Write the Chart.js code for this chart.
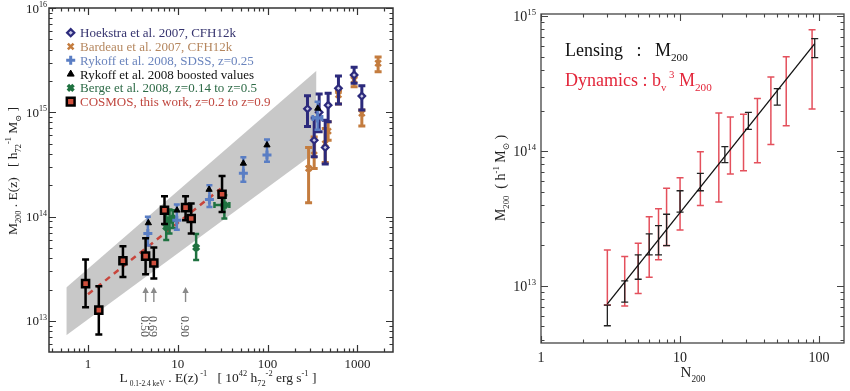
<!DOCTYPE html>
<html>
<head>
<meta charset="utf-8">
<script src="https://cdn.jsdelivr.net/npm/chart.js@4.4.0/dist/chart.umd.min.js"></script>
<style>
  html, body { margin: 0; padding: 0; background: #fff; }
  #wrap { position: relative; width: 850px; height: 391px; }
  #left { position: absolute; left: 0; top: 0; }
  #right { position: absolute; left: 430px; top: 0; }
</style>
</head>
<body>
<div id="wrap">
  <canvas id="left" width="430" height="391"></canvas>
  <canvas id="right" width="420" height="391"></canvas>
</div>
<script>
// ---------- left panel data (L in 1e42 h72^-2 erg/s, M200 in h72^-1 Msun) ----------
const cosmosL  = [0.94, 1.32, 2.45, 4.38, 5.41, 7.11, 12.2, 14.1, 31.1];
const cosmosM  = [2.28e13, 1.27e13, 3.77e13, 4.18e13, 3.6e13, 1.15e14, 1.22e14, 9.6e13, 1.64e14];
const cosmosHi = [3.88e13, 2.15e13, 5.2e13, 6.2e13, 5.06e13, 1.57e14, 1.57e14, 1.34e14, 2.45e14];
const cosmosLo = [1.35e13, 7.4e12, 2.64e13, 2.8e13, 2.55e13, 8.5e13, 9.25e13, 6.9e13, 1.11e14];

const rykoffL   = [4.64, 9.75, 22.5, 53.7, 98.4, 360];
const rykoffM   = [6.9e13, 9.25e13, 1.46e14, 2.6e14, 3.9e14, 8.8e14];
const rykoffHi  = [9.95e13, 1.31e14, 2.0e14, 3.7e14, 5.5e14, 1.26e15];
const rykoffLo  = [5.3e13, 7.5e13, 1.24e14, 2.16e14, 3.36e14, 6.8e14];
const rykoffXLo = [null, null, null, null, null, 318];
const rykoffXHi = [null, null, null, null, null, 405];

const boostedL = [4.7, 9.8, 22.3, 53.7, 98.4, 362];
const boostedM = [8.7e13, 1.15e14, 1.82e14, 3.24e14, 4.85e14, 1.09e15];

const bergeL   = [7.43, 8.09, 8.8, 16.0, 33.0];
const bergeM   = [7.98e13, 9.25e13, 9.6e13, 5.06e13, 1.29e14];
const bergeHi  = [1.09e14, 1.17e14, 1.15e14, 6.8e13, 1.6e14];
const bergeLo  = [5.96e13, 6.9e13, 7.8e13, 3.83e13, 9.6e13];
const bergeXLo = [null, null, null, null, 25.6];
const bergeXHi = [null, null, null, null, 37.5];

const hoekL  = [278, 330, 375, 438, 472, 615, 919, 1120];
const hoekM  = [1.08e15, 5.4e14, 1.0e15, 4.6e14, 1.17e15, 1.7e15, 2.28e15, 1.43e15];
const hoekHi = [1.44e15, 8.8e14, 1.5e15, 8.4e14, 1.52e15, 2.23e15, 2.7e15, 1.8e15];
const hoekLo = [7.3e14, 3.75e14, 6.5e14, 3.2e14, 8.1e14, 1.2e15, 1.9e15, 1.05e15];

const bardL  = [286, 330, 438, 472, 615, 919, 1120, 1700];
const bardM  = [2.9e14, 3.9e14, 5.0e14, 6.6e14, 1.47e15, 2.04e15, 9.8e14, 2.95e15];
const bardHi = [4.6e14, 5.8e14, 7.0e14, 8.1e14, 1.6e15, 2.2e15, 1.05e15, 3.4e15];
const bardLo = [1.36e14, 2.9e14, 3.3e14, 5.4e14, 1.2e15, 1.76e15, 7.4e14, 2.45e15];

const cosmosFitL = [1.0, 30];
const cosmosFitM = [1.8e13, 1.85e14];

const bandL     = [0.574, 350];
const bandUpper = [2.09e13, 2.51e15];
const bandLower = [7.3e12, 4.2e14];

const arrowL      = [4.38, 5.41, 12.2];
const arrowLabels = ['0.50', '0.69', '0.90'];
const arrowBase   = 1.52e13;
const arrowTip    = 2.12e13;
const arrowTextM  = 8.85e12;

const legendLabels = [
  'Hoekstra et al. 2007, CFH12k',
  'Bardeau et al. 2007, CFH12k',
  'Rykoff et al. 2008, SDSS, z=0.25',
  'Rykoff et al. 2008 boosted values',
  'Berge et al. 2008, z=0.14 to z=0.5',
  'COSMOS, this work, z=0.2 to z=0.9'
];

const leftXTicks = [1, 10, 100, 1000];
const leftYExps  = [13, 14, 15, 16];

// ---------- right panel data ----------
const lensN  = [3, 4, 5, 6, 7, 8, 10, 14, 21, 31, 50, 93];
const lensHi = [7.2e12, 1.09e13, 1.7e13, 2.43e13, 2.8e13, 3.4e13, 5.08e13, 6.84e13, 1.08e14, 1.94e14, 2.91e14, 6.84e14];
const lensLo = [5.06e12, 7.57e12, 1.12e13, 1.7e13, 1.7e13, 1.99e13, 3.53e13, 5.08e13, 8.2e13, 1.45e14, 2.19e14, 4.94e14];

const dynN  = [3, 4, 5, 6, 7, 8, 10, 14, 19, 23, 28.6, 36, 45, 58, 89];
const dynHi = [1.85e13, 1.65e13, 2.07e13, 3.26e13, 3.74e13, 5.3e13, 6.35e13, 9.9e13, 1.92e14, 1.79e14, 1.88e14, 2.46e14, 3.55e14, 5.0e14, 7.96e14];
const dynLo = [7.2e12, 7.1e12, 8.8e12, 1.16e13, 1.56e13, 1.99e13, 2.6e13, 3.94e13, 4.2e13, 6.76e13, 7.15e13, 8.2e13, 1.12e14, 1.54e14, 2.05e14];

const fitN = [3, 93];
const fitM = [7.36e12, 6.28e14];

const rightXTicks = [1, 10, 100];
const rightYExps  = [13, 14, 15];

// ---------- colours ----------
const NAVY = '#2c2a7c', ORANGE = '#c47c3e', BLUE = '#5a7ec4', GREEN = '#1f7240';
const SQFILL = '#cf4f3c', DYNRED = '#e4505c', TXTRED = '#e3263a';

const SERIF = "'Liberation Serif','Times New Roman','DejaVu Serif',serif";
const fnt = s => `${s}px ${SERIF}`;
const N = t => ({ t });
const SUB = t => ({ t, s: 0.62, dy: 0.3 });
const SUP = t => ({ t, s: 0.62, dy: -0.42 });

// draws text made of pieces with sub/superscripts
function rich(ctx, parts, x, y, size, color, align, rot) {
  ctx.save();
  ctx.translate(x, y);
  if (rot) ctx.rotate(rot);
  ctx.textBaseline = 'alphabetic';
  ctx.textAlign = 'left';
  let w = 0;
  const ws = parts.map(p => {
    ctx.font = fnt(size * (p.s || 1));
    const m = ctx.measureText(p.t).width;
    w += m;
    return m;
  });
  let cx = align === 'center' ? -w / 2 : align === 'right' ? -w : 0;
  parts.forEach((p, i) => {
    ctx.font = fnt(size * (p.s || 1));
    ctx.fillStyle = p.c || color;
    ctx.fillText(p.t, cx, (p.dy || 0) * size);
    cx += ws[i];
  });
  ctx.restore();
}

function logTicks(min, max) {
  const out = [];
  for (let e = Math.floor(Math.log10(min)); e <= Math.ceil(Math.log10(max)); e++) {
    for (let m = 1; m < 10; m++) {
      const v = m * Math.pow(10, e);
      if (v >= min * 0.999 && v <= max * 1.001) out.push({ v, major: m === 1 });
    }
  }
  return out;
}

// frame with inward ticks on all four sides
function drawFrame(chart, o) {
  const { ctx, chartArea: ca, scales } = chart;
  ctx.save();
  ctx.strokeStyle = o.color;
  ctx.lineWidth = o.tickWidth;
  ctx.beginPath();
  logTicks(scales.x.min, scales.x.max).forEach(t => {
    const px = Math.round(scales.x.getPixelForValue(t.v)) + 0.5;
    const len = t.major ? o.major : o.minor;
    ctx.moveTo(px, ca.bottom); ctx.lineTo(px, ca.bottom - len);
    ctx.moveTo(px, ca.top); ctx.lineTo(px, ca.top + len);
  });
  logTicks(scales.y.min, scales.y.max).forEach(t => {
    const py = Math.round(scales.y.getPixelForValue(t.v)) + 0.5;
    const len = t.major ? o.major : o.minor;
    ctx.moveTo(ca.left, py); ctx.lineTo(ca.left + len, py);
    ctx.moveTo(ca.right, py); ctx.lineTo(ca.right - len, py);
  });
  ctx.stroke();
  ctx.lineWidth = o.width;
  ctx.strokeRect(ca.left, ca.top, ca.width, ca.height);
  ctx.restore();
}

// error bars stored on the dataset, drawn under that dataset's markers
const errorBars = {
  id: 'errorBars',
  beforeDatasetDraw(chart, args) {
    const ds = chart.data.datasets[args.index];
    const e = ds.err;
    if (!e) return;
    const { ctx, chartArea: ca, scales } = chart;
    ctx.save();
    ctx.beginPath();
    ctx.rect(ca.left, ca.top, ca.width, ca.height);
    ctx.clip();
    ctx.strokeStyle = e.color;
    ctx.lineWidth = e.width;
    ctx.beginPath();
    ds.data.forEach((p, i) => {
      const px = scales.x.getPixelForValue(p.x);
      const py = scales.y.getPixelForValue(p.y);
      if (e.lo && e.lo[i] != null) {
        const y1 = scales.y.getPixelForValue(e.lo[i]);
        const y2 = scales.y.getPixelForValue(e.hi[i]);
        ctx.moveTo(px, y1); ctx.lineTo(px, y2);
        ctx.moveTo(px - e.cap, y1); ctx.lineTo(px + e.cap, y1);
        ctx.moveTo(px - e.cap, y2); ctx.lineTo(px + e.cap, y2);
      }
      if (e.xlo && e.xlo[i] != null) {
        const x1 = scales.x.getPixelForValue(e.xlo[i]);
        const x2 = scales.x.getPixelForValue(e.xhi[i]);
        ctx.moveTo(x1, py); ctx.lineTo(x2, py);
        ctx.moveTo(x1, py - e.cap); ctx.lineTo(x1, py + e.cap);
        ctx.moveTo(x2, py - e.cap); ctx.lineTo(x2, py + e.cap);
      }
    });
    ctx.stroke();
    ctx.restore();
  }
};

const pts = (xs, ys) => xs.map((x, i) => ({ x, y: ys[i] }));

// ---------- left chart ----------
const legendStyles = [
  { style: 'rectRot', r: 3.6, bw: 2.2, stroke: NAVY, fill: '#c9c9e6', text: '#35336e' },
  { style: 'crossRot', r: 4, bw: 2.5, stroke: ORANGE, fill: ORANGE, text: '#b5875f' },
  { style: 'cross', r: 4.5, bw: 3, stroke: BLUE, fill: BLUE, text: '#6a84bd' },
  { style: 'triangle', r: 4, bw: 1, stroke: '#000', fill: '#000', text: '#111' },
  { style: 'crossRot', r: 4, bw: 3.5, stroke: GREEN, fill: GREEN, text: '#2d6a46' },
  { style: 'rect', r: 5.5, bw: 2.5, stroke: '#000', fill: SQFILL, text: '#c0473f' }
];

const leftDecor = {
  id: 'leftDecor',
  afterDraw(chart) {
    const { ctx, chartArea: ca, scales } = chart;
    drawFrame(chart, { color: '#333', width: 1.5, tickWidth: 1.2, major: 7, minor: 3.5 });

    // tick labels
    leftXTicks.forEach(v => {
      rich(ctx, [N(String(v))], scales.x.getPixelForValue(v), 368, 13, '#222', 'center');
    });
    leftYExps.forEach(e => {
      rich(ctx, [N('10'), SUP(String(e))], ca.left - 2, scales.y.getPixelForValue(Math.pow(10, e)) + 4.5, 13, '#222', 'right');
    });

    // axis titles
    rich(ctx, [N('L'), { t: ' 0.1-2.4 keV', s: 0.55, dy: 0.3 }, N(' . E(z)'), SUP(' -1'),
      N('   [ 10'), SUP('42'), N(' h'), SUB('72'), SUP('-2'), N(' erg s'), SUP('-1'), N(' ]')],
      218, 382, 13.5, '#222', 'center');
    rich(ctx, [N('M'), SUB('200'), N(' . E(z)   [ h'), SUB('72'), SUP('-1'), N(' M'), SUB('\u2299'), N(' ]')],
      17, 171, 13.5, '#222', 'center', -Math.PI / 2);

    // arrows with redshift labels
    ctx.save();
    ctx.strokeStyle = '#8a8a8a';
    ctx.fillStyle = '#8a8a8a';
    ctx.lineWidth = 1.4;
    arrowL.forEach((v, i) => {
      const px = scales.x.getPixelForValue(v);
      const yb = scales.y.getPixelForValue(arrowBase);
      const yt = scales.y.getPixelForValue(arrowTip);
      ctx.beginPath();
      ctx.moveTo(px, yb); ctx.lineTo(px, yt + 5);
      ctx.stroke();
      ctx.beginPath();
      ctx.moveTo(px, yt); ctx.lineTo(px - 3.2, yt + 6); ctx.lineTo(px + 3.2, yt + 6);
      ctx.closePath();
      ctx.fill();
      rich(ctx, [N(arrowLabels[i])], px - 5, scales.y.getPixelForValue(arrowTextM), 12, '#555', 'center', Math.PI / 2);
    });
    ctx.restore();

    // legend
    legendLabels.forEach((lab, i) => {
      const st = legendStyles[i];
      const y = 32.7 + i * 13.8;
      ctx.save();
      ctx.strokeStyle = st.stroke;
      ctx.fillStyle = st.fill;
      ctx.lineWidth = st.bw;
      Chart.helpers.drawPoint(ctx, { pointStyle: st.style, radius: st.r, borderWidth: st.bw, rotation: 0 }, 70.7, y);
      ctx.restore();
      rich(ctx, [N(lab)], 80, y + 4.5, 13, st.text, 'left');
    });
  }
};

new Chart(document.getElementById('left'), {
  type: 'scatter',
  data: {
    datasets: [
      {
        label: 'COSMOS', data: pts(cosmosL, cosmosM), order: 1,
        pointStyle: 'rect', pointRadius: 5, backgroundColor: SQFILL, borderColor: '#000', borderWidth: 2.5,
        err: { lo: cosmosLo, hi: cosmosHi, color: '#000', width: 2.5, cap: 3.5 }
      },
      {
        label: 'Rykoff boosted', data: pts(boostedL, boostedM), order: 2,
        pointStyle: 'triangle', pointRadius: 3.6, backgroundColor: '#000', borderColor: '#000', borderWidth: 1
      },
      {
        label: 'Rykoff SDSS', data: pts(rykoffL, rykoffM), order: 3,
        pointStyle: 'cross', pointRadius: 4.5, borderColor: BLUE, borderWidth: 3,
        err: { lo: rykoffLo, hi: rykoffHi, xlo: rykoffXLo, xhi: rykoffXHi, color: BLUE, width: 2.5, cap: 3 }
      },
      {
        label: 'Berge', data: pts(bergeL, bergeM), order: 4,
        pointStyle: 'crossRot', pointRadius: 4, borderColor: GREEN, borderWidth: 3.5,
        err: { lo: bergeLo, hi: bergeHi, xlo: bergeXLo, xhi: bergeXHi, color: GREEN, width: 2.5, cap: 3 }
      },
      {
        label: 'Hoekstra', data: pts(hoekL, hoekM), order: 5,
        pointStyle: 'rectRot', pointRadius: 3.3, backgroundColor: '#c9c9e6', borderColor: NAVY, borderWidth: 2.2,
        err: { lo: hoekLo, hi: hoekHi, color: NAVY, width: 3, cap: 3.5 }
      },
      {
        label: 'Bardeau', data: pts(bardL, bardM), order: 6,
        pointStyle: 'crossRot', pointRadius: 4, borderColor: ORANGE, borderWidth: 2.5,
        err: { lo: bardLo, hi: bardHi, color: ORANGE, width: 3, cap: 3.5 }
      },
      {
        type: 'line', label: 'fit', data: pts(cosmosFitL, cosmosFitM), order: 8,
        borderColor: '#c8453c', borderWidth: 2.5, borderDash: [6, 5], pointRadius: 0, fill: false
      },
      {
        type: 'line', label: 'band upper', data: pts(bandL, bandUpper), order: 10,
        borderColor: 'rgba(0,0,0,0)', borderWidth: 0, pointRadius: 0, fill: false
      },
      {
        type: 'line', label: 'band lower', data: pts(bandL, bandLower), order: 10,
        borderColor: 'rgba(0,0,0,0)', borderWidth: 0, pointRadius: 0,
        fill: '-1', backgroundColor: 'rgb(200,200,200)'
      }
    ]
  },
  options: {
    responsive: false,
    animation: false,
    events: [],
    layout: { padding: { left: 0, top: 8, right: 37, bottom: 0 } },
    plugins: { legend: { display: false }, tooltip: { enabled: false } },
    scales: {
      x: {
        type: 'logarithmic', min: 0.368, max: 2490,
        grid: { display: false }, border: { display: false }, ticks: { display: false },
        afterFit: s => { s.height = 39; }
      },
      y: {
        type: 'logarithmic', min: 5.04e12, max: 1e16,
        grid: { display: false }, border: { display: false }, ticks: { display: false },
        afterFit: s => { s.width = 49; }
      }
    }
  },
  plugins: [errorBars, leftDecor]
});

// ---------- right chart ----------
const rightDecor = {
  id: 'rightDecor',
  afterDraw(chart) {
    const { ctx, chartArea: ca, scales } = chart;
    drawFrame(chart, { color: '#444', width: 1.3, tickWidth: 1.1, major: 7, minor: 3.5 });

    rightXTicks.forEach(v => {
      rich(ctx, [N(String(v))], scales.x.getPixelForValue(v), 362, 14, '#222', 'center');
    });
    rightYExps.forEach(e => {
      rich(ctx, [N('10'), SUP(String(e))], ca.left - 5, scales.y.getPixelForValue(Math.pow(10, e)) + 5, 14, '#222', 'right');
    });

    rich(ctx, [N('N'), SUB('200')], 263, 377, 15, '#222', 'center');
    rich(ctx, [N('M'), SUB('200'), N('  ( h'), SUP('-1'), N(' M'), SUB('\u2299'), N(' )')],
      75, 178, 14, '#222', 'center', -Math.PI / 2);

    rich(ctx, [N('Lensing   :   M'), SUB('200')], 135, 56, 18, '#111', 'left');
    rich(ctx, [N('Dynamics : b'), { t: 'v', s: 0.6, dy: 0.3 }, { t: ' 3', s: 0.6, dy: -0.45 }, N(' M'), SUB('200')],
      135, 86, 18, TXTRED, 'left');
  }
};

new Chart(document.getElementById('right'), {
  type: 'scatter',
  data: {
    datasets: [
      {
        type: 'line', label: 'fit', data: pts(fitN, fitM), order: 1,
        borderColor: '#111', borderWidth: 1.3, pointRadius: 0, fill: false
      },
      {
        label: 'Lensing', data: lensN.map((x, i) => ({ x, y: Math.sqrt(lensLo[i] * lensHi[i]) })), order: 2,
        pointRadius: 0,
        err: { lo: lensLo, hi: lensHi, color: '#222', width: 1.3, cap: 3.5 }
      },
      {
        label: 'Dynamics', data: dynN.map((x, i) => ({ x, y: Math.sqrt(dynLo[i] * dynHi[i]) })), order: 3,
        pointRadius: 0,
        err: { lo: dynLo, hi: dynHi, color: DYNRED, width: 1.5, cap: 3.5 }
      }
    ]
  },
  options: {
    responsive: false,
    animation: false,
    events: [],
    layout: { padding: { left: 0, top: 14, right: 6, bottom: 0 } },
    plugins: { legend: { display: false }, tooltip: { enabled: false } },
    scales: {
      x: {
        type: 'logarithmic', min: 1, max: 151,
        grid: { display: false }, border: { display: false }, ticks: { display: false },
        afterFit: s => { s.height = 48; }
      },
      y: {
        type: 'logarithmic', min: 3.77e12, max: 1.04e15,
        grid: { display: false }, border: { display: false }, ticks: { display: false },
        afterFit: s => { s.width = 111; }
      }
    }
  },
  plugins: [errorBars, rightDecor]
});
</script>
</body>
</html>
